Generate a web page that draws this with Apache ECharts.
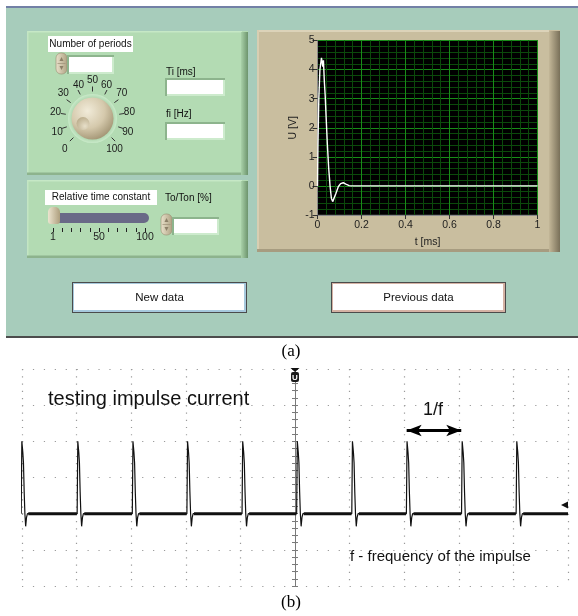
<!DOCTYPE html>
<html>
<head>
<meta charset="utf-8">
<title>Impulse current</title>
<script src="https://cdn.jsdelivr.net/npm/echarts@6/dist/echarts.min.js"></script>
<style>
html,body{margin:0;padding:0;background:#fff;}
#chart{width:578px;height:616px;}
</style>
</head>
<body>
<div id="chart"></div>
<script>
// ---------------- (a) LabVIEW graph: simulated impulse ----------------
const pulseTimeMs  = [0, 0.002, 0.006, 0.011, 0.018, 0.021, 0.024, 0.027, 0.031, 0.035, 0.039, 0.045, 0.051, 0.057, 0.063, 0.069, 0.075, 0.084, 0.095, 0.105, 0.117, 0.129, 0.144, 0.155, 1.0];
const pulseVoltage = [0, 1.4, 3.0, 4.0, 4.4, 4.38, 4.1, 4.32, 3.6, 3.1, 2.4, 1.4, 0.6, 0.0, -0.42, -0.54, -0.48, -0.25, -0.02, 0.08, 0.11, 0.06, 0.01, 0, 0];
const graphTimeRange = [0, 1];
const graphTimeStep = 0.2;
const graphVoltRange = [-1, 5];
const graphVoltStep = 1;

// knob "Number of periods" scale
const knobRange = [0, 100];
const knobSteps = 10;
const knobValue = 8;

// slider "Relative time constant" scale labels
const sliderTickLabels = ['1', '', '', '', '', '50', '', '', '', '', '100'];

// ---------------- (b) oscilloscope trace (units: divisions) ----------------
const scopeTimeRange = [-5, 5];
const scopeLevelRange = [-2, 4];
const spikeStarts  = [-5.015, -3.99, -2.98, -1.98, -0.97, 0.03, 1.04, 2.04, 3.05, 4.05];
const spikeOffsets = [0, 0.012, 0.02, 0.03, 0.042, 0.055, 0.068, 0.082, 0.098, 0.115];
const spikeLevels  = [0, 2.0, 1.95, 1.7, 1.4, 0.6, 0.0, -0.35, -0.1, 0.0];
const periodArrowSpikes = [7, 8];
const periodArrowLevel = 2.3;

// ---------------- build series data ----------------
const pulseData = pulseTimeMs.map((t, i) => [t, pulseVoltage[i]]);
const scopeData = [];
spikeStarts.forEach(s => {
  spikeOffsets.forEach((o, j) => scopeData.push([s + o, spikeLevels[j]]));
});
scopeData.push([scopeTimeRange[1], 0]);
const noiseData = [];
spikeStarts.forEach((s, i) => {
  const end = i + 1 < spikeStarts.length ? spikeStarts[i + 1] - 0.005 : scopeTimeRange[1];
  noiseData.push([s + 0.13, 0], [end, 0], [null, null]);
});
const arrowInset = 0.005;
const arrowFrom = spikeStarts[periodArrowSpikes[0]] + arrowInset;
const arrowTo = spikeStarts[periodArrowSpikes[1]] - arrowInset;

// ---------------- decoration helpers ----------------
const UI_FONT = '"Liberation Sans", Arial, sans-serif';
let zc = 0;
function rect(x, y, w, h, fill, extra) {
  const e = Object.assign({ type: 'rect', z: 1, z2: zc++, silent: true,
    shape: { x: x, y: y, width: w, height: h, r: 0 },
    style: { fill: fill } }, extra || {});
  return e;
}
function lin(c0, c1, vertical) {
  return { type: 'linear', x: 0, y: 0, x2: vertical ? 0 : 1, y2: vertical ? 1 : 0,
    colorStops: [{ offset: 0, color: c0 }, { offset: 1, color: c1 }] };
}
function txt(x, y, s, font, align, color, z) {
  return { type: 'text', z: z || 3, z2: zc++, silent: true, x: x, y: y,
    style: { text: s, font: font, fill: color || '#111', textFill: color || '#111',
      align: align || 'left', textAlign: align || 'left', verticalAlign: 'middle', textVerticalAlign: 'middle' } };
}
function spinner(x, y) {
  return [
    rect(x, y, 11, 21, lin('#EAE2CC', '#B2A585', false), { shape: { x: x, y: y, width: 11, height: 21, r: 5 }, style: { fill: lin('#EAE2CC', '#AFA283', false), stroke: '#978B6E', lineWidth: 0.6 } }),
    { type: 'polygon', z: 1, z2: zc++, silent: true, shape: { points: [[x + 5.5, y + 4], [x + 3.5, y + 8], [x + 7.5, y + 8]] }, style: { fill: '#8C8068' } },
    { type: 'polygon', z: 1, z2: zc++, silent: true, shape: { points: [[x + 5.5, y + 17], [x + 3.5, y + 13], [x + 7.5, y + 13]] }, style: { fill: '#8C8068' } },
    rect(x + 1.5, y + 10.2, 8, 0.7, '#9C9078')
  ];
}
function numBox(x, y, w, h) {
  return [
    rect(x, y, w, h, '#8DB48D'),
    rect(x + 2, y + 2, w - 2, h - 2, '#CDEBCD'),
    rect(x + 2, y + 2, w - 4, h - 4, '#FFFFFF')
  ];
}
function greenPanel(x, y, w, h) {
  return [
    rect(x, y, w, h, '#B3DBB3'),
    rect(x, y, w - 6, 1.5, '#C6E8C6'),
    rect(x, y, 1.5, h, '#C3E5C3'),
    rect(x + w - 7, y + 1, 7, h - 1, lin('#A9D1A9', '#6D946D', false)),
    rect(x, y + h - 2.5, w - 7, 2.5, '#8DB38D')
  ];
}
function button(x, y, w, h, tint, label) {
  return [
    rect(x, y, w, h, '#4B4B4B'),
    rect(x + 1, y + 1, w - 2, h - 2, tint),
    rect(x + 2, y + 2, w - 5, h - 5, '#FFFFFF'),
    txt(x + w / 2, y + h / 2, label, '11.5px ' + UI_FONT, 'center', '#111')
  ];
}

const els = [];
// section (a) background
els.push(rect(6, 6, 572, 2, '#7280A6'));
els.push(rect(6, 8, 572, 328, '#A7CCBB'));
els.push(rect(6, 336, 572, 2, '#4C4C4C'));
// green control panels
els.push(...greenPanel(27, 31, 221, 144));
els.push(...greenPanel(27, 180, 221, 78));
// tan graph panel
els.push(rect(257, 30, 303, 222, '#C9BE9F'));
els.push(rect(257, 30, 292, 2, '#DCD3B9'));
els.push(rect(257, 30, 2, 222, '#D8CEB2'));
els.push(rect(549, 31, 11, 221, lin('#C3B798', '#797059', false)));
els.push(rect(257, 249, 292, 3, '#A79C80'));

// knob
els.push({ type: 'circle', z: 1, z2: zc++, silent: true, shape: { cx: 92.5, cy: 118.5, r: 24.5 },
  style: { fill: { type: 'radial', x: 0.5, y: 0.5, r: 0.5, colorStops: [{ offset: 0.8, color: '#A9D2A9' }, { offset: 1, color: '#C9EAC9' }] } } });
els.push({ type: 'circle', z: 1, z2: zc++, silent: true, shape: { cx: 92.5, cy: 118.5, r: 21 },
  style: { fill: { type: 'radial', x: 0.38, y: 0.32, r: 0.75, colorStops: [{ offset: 0, color: '#F1EBD9' }, { offset: 0.55, color: '#D5C9AC' }, { offset: 1, color: '#9E906F' }] } } });
els.push({ type: 'circle', z: 1, z2: zc++, silent: true, shape: { cx: 83, cy: 123.5, r: 6.5 },
  style: { fill: { type: 'radial', x: 0.65, y: 0.7, r: 0.8, colorStops: [{ offset: 0, color: '#E7DFC9' }, { offset: 1, color: '#B7A987' }] } } });

// "Number of periods" label, spinner and display
els.push(rect(48, 36, 85, 16, '#FFFFFF'));
els.push(txt(90.5, 44.5, 'Number of periods', '10px ' + UI_FONT, 'center'));
els.push(...spinner(56, 53));
els.push(...numBox(67, 55, 47, 19));

// Ti / fi indicators
els.push(txt(166, 72, 'Ti [ms]', '10px ' + UI_FONT, 'left'));
els.push(...numBox(165, 78, 60, 18));
els.push(txt(166, 114, 'fi [Hz]', '10px ' + UI_FONT, 'left'));
els.push(...numBox(165, 122, 60, 18));

// slider
els.push(rect(45, 190, 112, 15, '#FFFFFF'));
els.push(txt(101, 197.5, 'Relative time constant', '10px ' + UI_FONT, 'center'));
els.push(rect(48, 213, 101, 10, '#6A6A87', { shape: { x: 48, y: 213, width: 101, height: 10, r: 5 } }));
els.push(rect(48, 207, 12, 17, lin('#ECE4CF', '#AE9F7E', false), { shape: { x: 48, y: 207, width: 12, height: 17, r: [5, 5, 3, 3] } }));
els.push(txt(165, 198, 'To/Ton [%]', '10px ' + UI_FONT, 'left'));
els.push(...spinner(161, 214));
els.push(...numBox(172, 217, 47, 18));

// buttons
els.push(...button(72, 282, 175, 31, '#A7C9DD', 'New data'));
els.push(...button(331, 282, 175, 31, '#D5B2A4', 'Previous data'));

// captions
els.push(txt(291, 352, '(a)', '17px "Liberation Serif", "Times New Roman", serif', 'center', '#000'));
els.push(txt(291, 603, '(b)', '17px "Liberation Serif", "Times New Roman", serif', 'center', '#000'));

// oscilloscope annotations
els.push(txt(48, 399, 'testing impulse current', '20px ' + UI_FONT, 'left', '#111', 12));
els.push(txt(433, 410, '1/f', '18px ' + UI_FONT, 'center', '#111', 12));
els.push(txt(350, 557, 'f - frequency of the impulse', '15px ' + UI_FONT, 'left', '#111', 12));
els.push({ type: 'polygon', z: 12, silent: true, shape: { points: [[290.5, 368], [299.5, 368], [295, 372]] }, style: { fill: '#111' } });
els.push({ type: 'rect', z: 12, silent: true, shape: { x: 291, y: 372, width: 8, height: 10, r: 2 }, style: { fill: '#1a1a1a' } });
els.push(txt(295, 377.5, 'U', 'bold 8px ' + UI_FONT, 'center', '#ffffff', 13));
els.push({ type: 'polygon', z: 12, silent: true, shape: { points: [[561, 505], [568, 501.5], [568, 508.5]] }, style: { fill: '#111' } });

const axisFont = { color: '#1e1e1e', fontSize: 10.5, fontFamily: UI_FONT };

const option = {
  animation: false,
  backgroundColor: '#ffffff',
  graphic: { elements: els },
  grid: [
    { left: 317.5, top: 40.5, width: 220, height: 174.5, show: true, backgroundColor: '#000000', borderColor: '#3c3c3c', borderWidth: 1, z: 5 },
    { left: 22, top: 369, width: 546, height: 217, z: 5 },
    { left: 53, top: 200, width: 92, height: 28, z: 5 }
  ],
  xAxis: [
    { gridIndex: 0, type: 'value', min: graphTimeRange[0], max: graphTimeRange[1], interval: graphTimeStep, z: 6,
      name: 't [ms]', nameLocation: 'middle', nameGap: 22, nameTextStyle: axisFont,
      axisLine: { onZero: false, lineStyle: { color: '#8a8a8a' } },
      axisTick: { show: true, length: 4, lineStyle: { color: '#333' } },
      axisLabel: Object.assign({ margin: 5 }, axisFont),
      splitLine: { show: true, lineStyle: { color: '#188c18', width: 1 } },
      minorTick: { show: false, splitNumber: 5 },
      minorSplitLine: { show: true, lineStyle: { color: '#0b4a0b', width: 1 } } },
    { gridIndex: 1, type: 'value', min: scopeTimeRange[0], max: scopeTimeRange[1], interval: 1, z: 6,
      axisLine: { show: false, onZero: false }, axisTick: { show: false }, axisLabel: { show: false },
      splitLine: { show: true, lineStyle: { color: '#9a9a9a', width: 1.2, type: [1.2, 6.04] } } },
    { gridIndex: 1, type: 'value', min: scopeTimeRange[0], max: scopeTimeRange[1], interval: 1, z: 6,
      axisLine: { show: false, onZero: false }, axisTick: { show: false }, axisLabel: { show: false }, splitLine: { show: false } },
    { gridIndex: 2, type: 'category', data: sliderTickLabels, boundaryGap: false, z: 6,
      axisLine: { show: false, onZero: false },
      axisTick: { show: true, interval: 0, length: 4, lineStyle: { color: '#222' } },
      axisLabel: Object.assign({ interval: 0, margin: 4 }, axisFont),
      splitLine: { show: false } }
  ],
  yAxis: [
    { gridIndex: 0, type: 'value', min: graphVoltRange[0], max: graphVoltRange[1], interval: graphVoltStep, z: 6,
      name: 'U [V]', nameLocation: 'middle', nameGap: 19, nameRotate: 90, nameTextStyle: axisFont,
      axisLine: { show: true, lineStyle: { color: '#8a8a8a' } },
      axisTick: { show: true, length: 5, lineStyle: { color: '#333' } },
      axisLabel: Object.assign({ margin: 3 }, axisFont),
      splitLine: { show: true, lineStyle: { color: '#188c18', width: 1 } },
      minorTick: { show: false, splitNumber: 5 },
      minorSplitLine: { show: true, lineStyle: { color: '#0b4a0b', width: 1 } } },
    { gridIndex: 1, type: 'value', min: scopeLevelRange[0], max: scopeLevelRange[1], interval: 1, z: 6, position: 'left',
      axisLine: { show: true, onZero: true, lineStyle: { color: '#7a7a7a', width: 1 } },
      axisTick: { show: true, inside: false, length: 3, lineStyle: { color: '#7a7a7a' } },
      minorTick: { show: true, splitNumber: 5, length: 3, lineStyle: { color: '#7a7a7a' } },
      axisLabel: { show: false },
      splitLine: { show: true, lineStyle: { color: '#9a9a9a', width: 1.2, type: [1.2, 9.72] } } },
    { gridIndex: 1, type: 'value', min: scopeLevelRange[0], max: scopeLevelRange[1], interval: 1, z: 6, position: 'right',
      axisLine: { show: true, onZero: true, lineStyle: { color: '#7a7a7a', width: 1 } },
      axisTick: { show: true, inside: false, length: 3, lineStyle: { color: '#7a7a7a' } },
      minorTick: { show: true, splitNumber: 5, length: 3, lineStyle: { color: '#7a7a7a' } },
      axisLabel: { show: false }, splitLine: { show: false } },
    { gridIndex: 2, type: 'value', min: 0, max: 1, show: false }
  ],
  series: [
    { name: 'U', type: 'line', xAxisIndex: 0, yAxisIndex: 0, data: pulseData, z: 8,
      showSymbol: false, symbol: 'none', lineStyle: { color: '#ffffff', width: 1.4 } },
    { name: 'noise', type: 'line', xAxisIndex: 1, yAxisIndex: 1, data: noiseData, z: 8,
      showSymbol: false, symbol: 'none', connectNulls: false, lineStyle: { color: '#111', width: 3 } },
    { name: 'impulse current', type: 'line', xAxisIndex: 1, yAxisIndex: 1, data: scopeData, z: 9,
      showSymbol: false, symbol: 'none', lineStyle: { color: '#111', width: 1.2 },
      markLine: { silent: true, symbol: ['arrow', 'arrow'], symbolSize: [8.5, 15],
        lineStyle: { color: '#000', width: 3, type: 'solid' }, label: { show: false },
        data: [[{ coord: [arrowFrom, periodArrowLevel] }, { coord: [arrowTo, periodArrowLevel] }]] } },
    { name: 'Number of periods', type: 'gauge', center: [92.5, 118.5], radius: 44, startAngle: 225, endAngle: -45,
      min: knobRange[0], max: knobRange[1], splitNumber: knobSteps, z: 8,
      axisLine: { show: false, lineStyle: { width: 0 } },
      progress: { show: false }, pointer: { show: false }, anchor: { show: false },
      axisTick: { show: false },
      splitLine: { show: true, length: 5, distance: 12, lineStyle: { color: '#333', width: 1 } },
      axisLabel: { show: true, distance: -16, color: '#1a1a1a', fontSize: 10, fontFamily: UI_FONT },
      title: { show: false }, detail: { show: false },
      data: [{ value: knobValue }] }
  ]
};

const chart = echarts.init(document.getElementById('chart'), null, { renderer: 'canvas' });
chart.setOption(option);
</script>
</body>
</html>
